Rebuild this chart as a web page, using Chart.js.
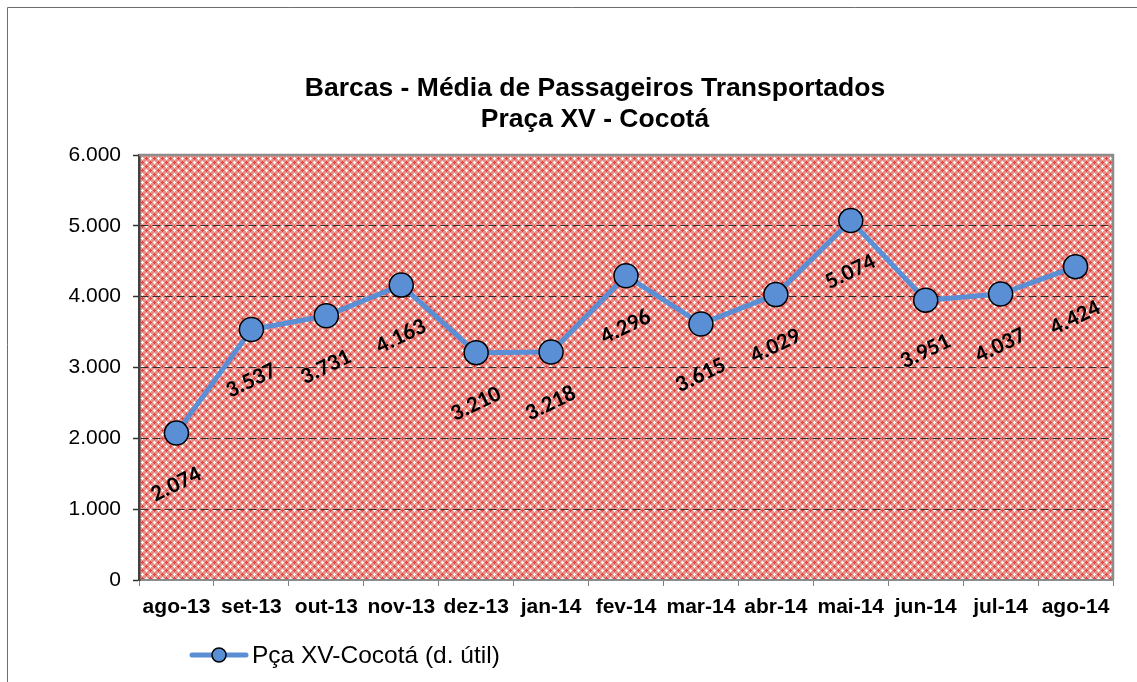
<!DOCTYPE html>
<html>
<head>
<meta charset="utf-8">
<script src="https://cdn.jsdelivr.net/npm/chart.js@4.4.1/dist/chart.umd.min.js"></script>
<style>
  html, body { margin: 0; padding: 0; background: #ffffff; }
  #wrap { position: relative; width: 1137px; height: 682px; }
  canvas { display: block; }
</style>
</head>
<body>
<div id="wrap"><canvas id="c" width="1137" height="682"></canvas></div>
<script>
// ---- data ----
const categories = ['ago-13','set-13','out-13','nov-13','dez-13','jan-14','fev-14','mar-14','abr-14','mai-14','jun-14','jul-14','ago-14'];
const passengers = [2074, 3537, 3731, 4163, 3210, 3218, 4296, 3615, 4029, 5074, 3951, 4037, 4424];
const seriesName = 'Pça XV-Cocotá (d. útil)';
const titleLines = ['Barcas - Média de Passageiros Transportados', 'Praça XV - Cocotá'];
const yTicks = [0, 1000, 2000, 3000, 4000, 5000, 6000];

function fmt(v) { return String(v).replace(/\B(?=(\d{3})+(?!\d))/g, '.'); }

// ---- hatch pattern ----
function makePattern(ctx) {
  const t = document.createElement('canvas');
  t.width = 8; t.height = 8;
  const g = t.getContext('2d');
  g.fillStyle = '#EC928D';
  g.fillRect(0, 0, 8, 8);
  function plus(cx, cy, col) {
    g.fillStyle = col;
    [[0,0],[1,0],[-1,0],[0,1],[0,-1]].forEach(d => g.fillRect((cx+d[0]+8)%8, (cy+d[1]+8)%8, 1, 1));
  }
  plus(2, 2, '#FFFFFF'); plus(6, 6, '#FFFFFF');
  plus(6, 2, '#D9433E'); plus(2, 6, '#D9433E');
  return ctx.createPattern(t, 'repeat');
}

const framePlugin = {
  id: 'frame',
  beforeDraw(chart) {
    const { ctx, chartArea: a } = chart;
    ctx.save();
    ctx.fillStyle = '#ffffff';
    ctx.fillRect(0, 0, chart.width, chart.height);
    ctx.strokeStyle = '#6e6e6e';
    ctx.lineWidth = 1;
    ctx.beginPath();
    ctx.moveTo(7.5, chart.height);
    ctx.lineTo(7.5, 7.5);
    ctx.lineTo(chart.width, 7.5);
    ctx.stroke();
    ctx.fillStyle = makePattern(ctx);
    ctx.fillRect(a.left, a.top, a.right - a.left, a.bottom - a.top);
    ctx.restore();
  },
  afterDraw(chart) {
    const { ctx, chartArea: a } = chart;
    ctx.save();
    ctx.strokeStyle = '#8c8c8c';
    ctx.lineWidth = 2.5;
    ctx.beginPath();
    ctx.moveTo(a.left, a.top);
    ctx.lineTo(a.right, a.top);
    ctx.lineTo(a.right, a.bottom);
    ctx.stroke();
    // title
    ctx.fillStyle = '#000000';
    ctx.textAlign = 'center';
    ctx.textBaseline = 'alphabetic';
    ctx.font = 'bold 26.5px "Liberation Sans", Arial, sans-serif';
    const cx = 595;
    ctx.fillText(titleLines[0], cx, 96);
    ctx.fillText(titleLines[1], cx, 127);
    // legend
    const ly = 655;
    ctx.strokeStyle = '#5A8FD5';
    ctx.lineWidth = 5;
    ctx.lineCap = 'round';
    ctx.beginPath();
    ctx.moveTo(192, ly);
    ctx.lineTo(246, ly);
    ctx.stroke();
    ctx.beginPath();
    ctx.arc(219, ly, 7, 0, Math.PI * 2);
    ctx.fillStyle = '#5A8FD5';
    ctx.fill();
    ctx.lineWidth = 1.5;
    ctx.strokeStyle = '#000000';
    ctx.stroke();
    ctx.fillStyle = '#000000';
    ctx.textAlign = 'left';
    ctx.textBaseline = 'middle';
    ctx.font = '24.5px "Liberation Sans", Arial, sans-serif';
    ctx.fillText(seriesName, 252, ly + 1);
    ctx.restore();
  }
};

const labelPlugin = {
  id: 'pointLabels',
  afterDatasetsDraw(chart) {
    const { ctx } = chart;
    const meta = chart.getDatasetMeta(0);
    ctx.save();
    ctx.fillStyle = '#000000';
    ctx.font = 'bold 23px Carlito, Lato, "Open Sans", sans-serif';
    ctx.textAlign = 'center';
    ctx.textBaseline = 'middle';
    meta.data.forEach((pt, i) => {
      ctx.save();
      ctx.translate(pt.x, pt.y + 52);
      ctx.rotate(-0.45);
      ctx.fillText(fmt(passengers[i]), 0, 0);
      ctx.restore();
    });
    ctx.restore();
  }
};

new Chart(document.getElementById('c'), {
  type: 'line',
  data: {
    labels: categories,
    datasets: [{
      label: seriesName,
      data: passengers,
      borderColor: '#5A8FD5',
      backgroundColor: '#5A8FD5',
      borderWidth: 5,
      pointRadius: 12,
      pointHoverRadius: 12,
      pointBackgroundColor: '#5A8FD5',
      pointBorderColor: '#000000',
      pointBorderWidth: 1.5,
      tension: 0,
      fill: false
    }]
  },
  options: {
    responsive: false,
    animation: false,
    events: [],
    layout: { padding: { left: 0, right: 24, top: 155, bottom: 62 } },
    plugins: {
      legend: { display: false },
      title: { display: false },
      tooltip: { enabled: false }
    },
    scales: {
      x: {
        type: 'category',
        offset: true,
        afterFit(s) { s.height = 40; },
        grid: {
          offset: true,
          drawOnChartArea: false,
          drawTicks: true,
          tickLength: 6,
          tickColor: '#7f7f7f',
          tickWidth: 1
        },
        border: { display: true, color: '#8a8a8a', width: 2 },
        ticks: {
          color: '#000000',
          padding: 9,
          maxRotation: 0,
          autoSkip: false,
          font: { family: '"Liberation Sans", Arial, sans-serif', size: 21, weight: 'bold' }
        }
      },
      y: {
        min: 0,
        max: 6000,
        afterFit(s) { s.width = 139; },
        afterBuildTicks(s) { s.ticks = yTicks.map(v => ({ value: v })); },
        grid: {
          drawOnChartArea: true,
          color: (c) => (c.tick && (c.tick.value === 0 || c.tick.value === 6000)) ? 'rgba(0,0,0,0)' : '#333333',
          lineWidth: 1,
          drawTicks: true,
          tickLength: 6,
          tickColor: '#333333',
          tickWidth: 1.5,
          tickBorderDash: []
        },
        border: { display: true, color: '#404040', width: 2.5, dash: [8, 4] },
        ticks: {
          color: '#000000',
          padding: 12,
          callback: (v) => fmt(v),
          font: { family: '"Liberation Sans", Arial, sans-serif', size: 21 }
        }
      }
    }
  },
  plugins: [framePlugin, labelPlugin]
});
</script>
</body>
</html>
